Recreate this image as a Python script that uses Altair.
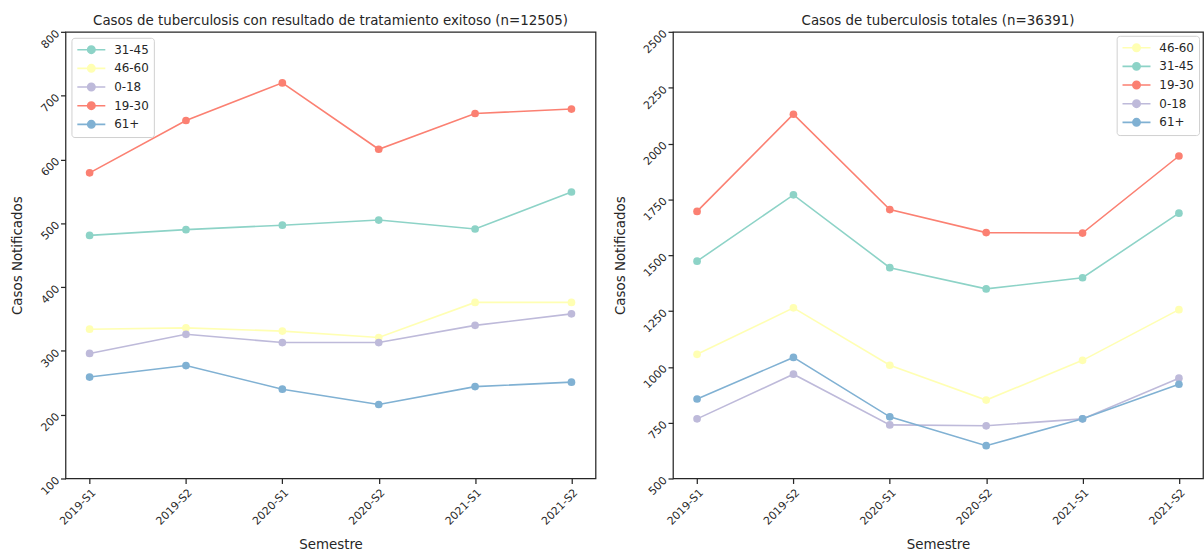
import altair as alt
import pandas as pd

# Semesters on the x axis
semestres = ["2019-S1", "2019-S2", "2020-S1", "2020-S2", "2021-S1", "2021-S2"]

# Cases with successful treatment outcome, by age group
exitoso_31_45 = [481, 490, 497, 505, 491, 549]
exitoso_46_60 = [334, 336, 331, 321, 376, 376]
exitoso_0_18 = [296, 326, 313, 313, 340, 358]
exitoso_19_30 = [579, 661, 720, 616, 672, 679]
exitoso_61 = [259, 277, 240, 216, 244, 251]

# Total notified cases, by age group
total_46_60 = [1056, 1264, 1007, 851, 1029, 1256]
total_31_45 = [1473, 1770, 1444, 1349, 1399, 1688]
total_19_30 = [1696, 2131, 1704, 1601, 1599, 1944]
total_0_18 = [767, 967, 740, 736, 767, 949]
total_61 = [856, 1042, 776, 647, 767, 922]

colores = {
    "31-45": "#8dd3c7",
    "46-60": "#ffffb3",
    "0-18": "#bebada",
    "19-30": "#fb8072",
    "61+": "#80b1d3",
}

orden_exitoso = ["31-45", "46-60", "0-18", "19-30", "61+"]
orden_total = ["46-60", "31-45", "19-30", "0-18", "61+"]

series_exitoso = {
    "31-45": exitoso_31_45,
    "46-60": exitoso_46_60,
    "0-18": exitoso_0_18,
    "19-30": exitoso_19_30,
    "61+": exitoso_61,
}
series_total = {
    "46-60": total_46_60,
    "31-45": total_31_45,
    "19-30": total_19_30,
    "0-18": total_0_18,
    "61+": total_61,
}

# Legend glyph: a short line with a dot in the middle
GLYPH = ("M-2.35,0L2.35,0 "
         "M-0.62,0A0.62,0.62 0 1,1 0.62,0A0.62,0.62 0 1,1 -0.62,0Z")

INK = "#262626"
FONT = "DejaVu Sans"


def tabla(series, orden):
    filas = []
    for i, g in enumerate(orden):
        for s, v in zip(semestres, series[g]):
            filas.append({"Semestre": s, "Grupo": g, "Casos": v, "z": i})
    return pd.DataFrame(filas)


def panel(series, orden, titulo, dominio, paso, esquina, offset):
    df = tabla(series, orden)
    color = alt.Color(
        "Grupo:N",
        scale=alt.Scale(domain=orden, range=[colores[g] for g in orden]),
        legend=alt.Legend(
            title=None,
            orient=esquina,
            offset=offset,
            symbolType=GLYPH,
            symbolSize=144,
            symbolStrokeWidth=1.6,
            symbolOffset=8,
            labelOffset=16,
            labelFontSize=12,
            labelFont=FONT,
            labelColor=INK,
            rowPadding=4.8,
            padding=5,
            strokeColor="#d0d0d0",
            fillColor="white",
            cornerRadius=3,
        ),
    )
    x = alt.X(
        "Semestre:N",
        sort=semestres,
        scale=alt.Scale(type="point", padding=0.25),
        axis=alt.Axis(
            title="Semestre",
            labelAngle=315,
            labelAlign="right",
            labelBaseline="top",
            labelPadding=3,
            titlePadding=11,
            grid=False,
        ),
    )
    y = alt.Y(
        "Casos:Q",
        scale=alt.Scale(domain=dominio, nice=False, zero=False),
        axis=alt.Axis(
            title="Casos Notificados",
            values=list(range(dominio[0], dominio[1] + 1, paso)),
            format="d",
            labelAngle=315,
            labelAlign="right",
            labelBaseline="middle",
            labelPadding=3,
            titlePadding=14,
            grid=False,
        ),
    )
    return (
        alt.Chart(df)
        .mark_line(
            strokeWidth=1.6,
            point=alt.OverlayMarkDef(filled=True, size=60, opacity=1),
        )
        .encode(x=x, y=y, color=color, order="z:Q")
        .properties(
            width=534,
            height=450,
            title=alt.TitleParams(titulo, fontSize=13.5, font=FONT,
                                  fontWeight="normal", color=INK, offset=0),
        )
    )


izq = panel(series_exitoso, orden_exitoso,
            "Casos de tuberculosis con resultado de tratamiento exitoso (n=12505)",
            [100, 800], 100, "top-left", 6)
der = panel(series_total, orden_total,
            "Casos de tuberculosis totales (n=36391)",
            [500, 2500], 250, "top-right", 4)

chart = (
    alt.hconcat(izq, der, spacing=16)
    .resolve_scale(color="independent")
    .resolve_legend(color="independent")
    .properties(padding={"left": 10, "top": 11, "right": 0, "bottom": 0},
                background="white")
    .configure_view(stroke=INK, strokeWidth=1.25)
    .configure_axis(
        grid=False,
        domain=False,
        tickColor=INK,
        tickSize=5,
        tickWidth=1.25,
        labelColor=INK,
        labelFont=FONT,
        labelFontSize=11,
        titleColor=INK,
        titleFont=FONT,
        titleFontSize=13.5,
        titleFontWeight="normal",
    )
)

chart.save("out.html", embed_options={"renderer": "svg", "actions": False})
